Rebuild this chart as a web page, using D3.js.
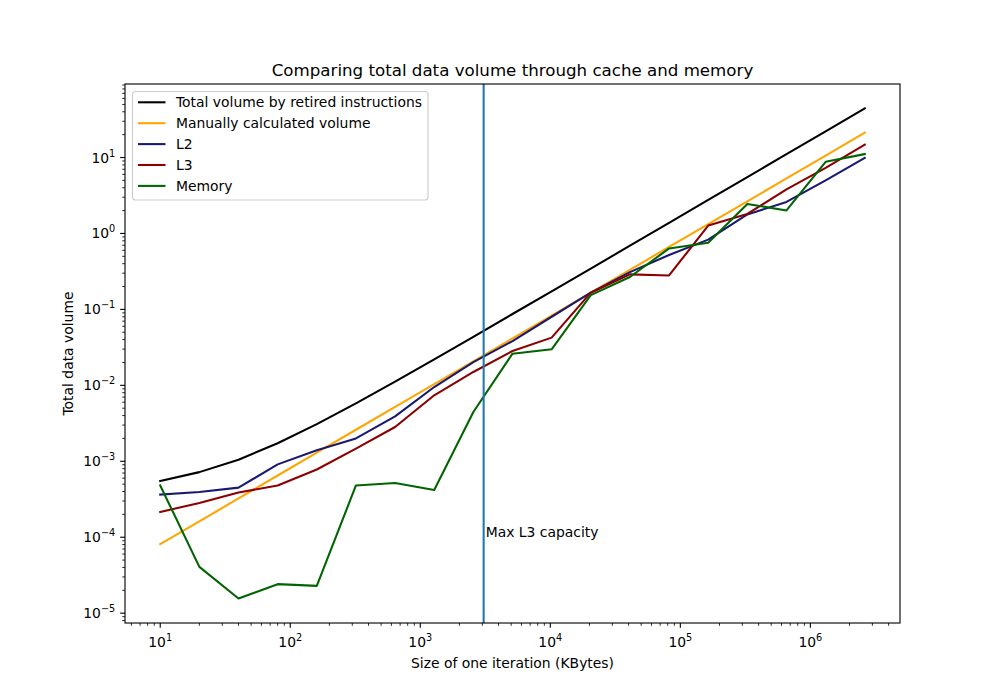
<!DOCTYPE html>
<html>
<head>
<meta charset="utf-8">
<script src="https://cdn.jsdelivr.net/npm/d3@7/dist/d3.min.js"></script>
<style>
  body { margin: 0; background: #fff; }
  text { font-family: "DejaVu Sans", sans-serif; fill: #000; }
</style>
</head>
<body>
<svg id="chart" width="1000" height="700"></svg>
<script>
// ---- data (sizes in KBytes, volumes) ----
const sizes = [10, 20, 40, 80, 160, 320, 640, 1280, 2560, 5120, 10240, 20480, 40960,
               81920, 163840, 327680, 655360, 1310720, 2621440];
const totalRetired = [5.5e-4, 7.2e-4, 1.05e-3, 1.73e-3, 3.08e-3, 5.8e-3, 1.12e-2, 2.2e-2, 4.35e-2,
                      8.7e-2, 0.173, 0.345, 0.69, 1.38, 2.76, 5.52, 11.05, 22.1, 44.2];
const manualVolume = [8.1e-5, 1.62e-4, 3.24e-4, 6.5e-4, 1.3e-3, 2.6e-3, 5.2e-3, 1.04e-2, 2.07e-2,
                      4.15e-2, 8.3e-2, 0.166, 0.332, 0.664, 1.33, 2.65, 5.3, 10.6, 21.2];
const l2Volume = [3.65e-4, 3.95e-4, 4.5e-4, 9.1e-4, 1.4e-3, 2.0e-3, 3.9e-3, 9.5e-3, 2.02e-2,
                  3.83e-2, 8.0e-2, 0.166, 0.31, 0.52, 0.83, 1.78, 2.6, 5.0, 9.9];
const l3Volume = [2.15e-4, 2.83e-4, 3.87e-4, 4.8e-4, 7.8e-4, 1.47e-3, 2.83e-3, 7.4e-3, 1.5e-2,
                  2.83e-2, 4.25e-2, 0.166, 0.289, 0.28, 1.27, 1.81, 3.8, 7.3, 14.8];
const memVolume = [4.8e-4, 4.07e-5, 1.56e-5, 2.41e-5, 2.29e-5, 4.8e-4, 5.19e-4, 4.19e-4, 4.46e-3,
                   2.61e-2, 2.98e-2, 0.154, 0.267, 0.635, 0.753, 2.45, 2.01, 8.78, 11.1];
const seriesNames = ["Total volume by retired instructions", "Manually calculated volume", "L2", "L3", "Memory"];
const seriesColors = ["#000000", "#ffa500", "#191970", "#8b0000", "#006400"];
const maxL3 = 3072;
const maxL3Label = "Max L3 capacity";
const labelY = 1e-4;
const xTickExps = [1, 2, 3, 4, 5, 6];
const yTickExps = [-5, -4, -3, -2, -1, 0, 1];
const titleText = "Comparing total data volume through cache and memory";
const xLabel = "Size of one iteration (KBytes)";
const yLabel = "Total data volume";

const seriesValues = [totalRetired, manualVolume, l2Volume, l3Volume, memVolume];

// ---- layout ----
const mLeft = 125, mRight = 900, mTop = 84, mBottom = 623;
const svg = d3.select("#chart");

function logPad(arr) {
  const lo = Math.log10(d3.min(arr)), hi = Math.log10(d3.max(arr));
  const p = (hi - lo) * 0.05;
  return [Math.pow(10, lo - p), Math.pow(10, hi + p)];
}
const allY = seriesValues.flat();
const x = d3.scaleLog().domain(logPad(sizes)).range([mLeft, mRight]);
const y = d3.scaleLog().domain(logPad(allY)).range([mBottom, mTop]);

const fs = 13.9;

function minorTicks(scale) {
  const [a, b] = scale.domain();
  const out = [];
  for (let e = Math.floor(Math.log10(a)); e <= Math.ceil(Math.log10(b)); e++) {
    for (let m = 2; m <= 9; m++) {
      const v = m * Math.pow(10, e);
      if (v >= a && v <= b) out.push(v);
    }
  }
  return out;
}

const g = svg.append("g");

// lines
const line = d3.line().x((d, i) => x(sizes[i])).y(d => y(d));
seriesValues.forEach((vals, k) => {
  g.append("path").datum(vals)
    .attr("d", line)
    .attr("fill", "none")
    .attr("stroke", seriesColors[k])
    .attr("stroke-width", 2.08)
    .attr("stroke-linejoin", "round")
    .attr("stroke-linecap", "square");
});

// vertical line
g.append("line")
  .attr("x1", x(maxL3)).attr("x2", x(maxL3))
  .attr("y1", mTop).attr("y2", mBottom)
  .attr("stroke", "#1f77b4").attr("stroke-width", 2.08);
g.append("text")
  .attr("x", x(maxL3) + 2).attr("y", y(labelY))
  .attr("font-size", fs)
  .text(maxL3Label);

// spines
svg.append("rect").attr("x", mLeft).attr("y", mTop)
  .attr("width", mRight - mLeft).attr("height", mBottom - mTop)
  .attr("fill", "none").attr("stroke", "#000").attr("stroke-width", 1.11);

// x axis ticks
const xAxis = svg.append("g");
minorTicks(x).forEach(v => {
  xAxis.append("line").attr("x1", x(v)).attr("x2", x(v))
    .attr("y1", mBottom).attr("y2", mBottom + 2.78)
    .attr("stroke", "#000").attr("stroke-width", 0.83);
});
xTickExps.forEach(e => {
  const v = Math.pow(10, e);
  xAxis.append("line").attr("x1", x(v)).attr("x2", x(v))
    .attr("y1", mBottom).attr("y2", mBottom + 4.86)
    .attr("stroke", "#000").attr("stroke-width", 1.11);
  const t = xAxis.append("text").attr("x", x(v)).attr("y", mBottom + 24)
    .attr("text-anchor", "middle").attr("font-size", fs);
  t.append("tspan").text("10");
  t.append("tspan").attr("font-size", fs * 0.7).attr("dy", -6).text(String(e));
});

// y axis ticks
const yAxis = svg.append("g");
minorTicks(y).forEach(v => {
  yAxis.append("line").attr("x1", mLeft).attr("x2", mLeft - 2.78)
    .attr("y1", y(v)).attr("y2", y(v))
    .attr("stroke", "#000").attr("stroke-width", 0.83);
});
yTickExps.forEach(e => {
  const v = Math.pow(10, e);
  yAxis.append("line").attr("x1", mLeft).attr("x2", mLeft - 4.86)
    .attr("y1", y(v)).attr("y2", y(v))
    .attr("stroke", "#000").attr("stroke-width", 1.11);
  const t = yAxis.append("text").attr("x", mLeft - 9.7).attr("y", y(v) + 5)
    .attr("text-anchor", "end").attr("font-size", fs);
  t.append("tspan").text("10");
  t.append("tspan").attr("font-size", fs * 0.7).attr("dy", -6)
    .text(e < 0 ? "\u2212" + Math.abs(e) : String(e));
});

// titles
svg.append("text").attr("x", (mLeft + mRight) / 2).attr("y", 76)
  .attr("text-anchor", "middle").attr("font-size", 16.67).text(titleText);
svg.append("text").attr("x", (mLeft + mRight) / 2).attr("y", 668)
  .attr("text-anchor", "middle").attr("font-size", fs).text(xLabel);
svg.append("text")
  .attr("transform", `translate(73,${(mTop + mBottom) / 2}) rotate(-90)`)
  .attr("text-anchor", "middle").attr("font-size", fs).text(yLabel);

// legend
const lg = svg.append("g");
lg.append("rect").attr("x", 132.5).attr("y", 91.5).attr("width", 295.5).attr("height", 108.5)
  .attr("rx", 3).attr("fill", "#fff").attr("fill-opacity", 0.8)
  .attr("stroke", "#cccccc").attr("stroke-width", 1.11);
seriesNames.forEach((name, k) => {
  const yy = 102.3 + k * 20.9;
  lg.append("line").attr("x1", 138).attr("x2", 165.5).attr("y1", yy).attr("y2", yy)
    .attr("stroke", seriesColors[k]).attr("stroke-width", 2.08);
  lg.append("text").attr("x", 176).attr("y", yy + 4.9).attr("font-size", fs).text(name);
});
</script>
</body>
</html>
